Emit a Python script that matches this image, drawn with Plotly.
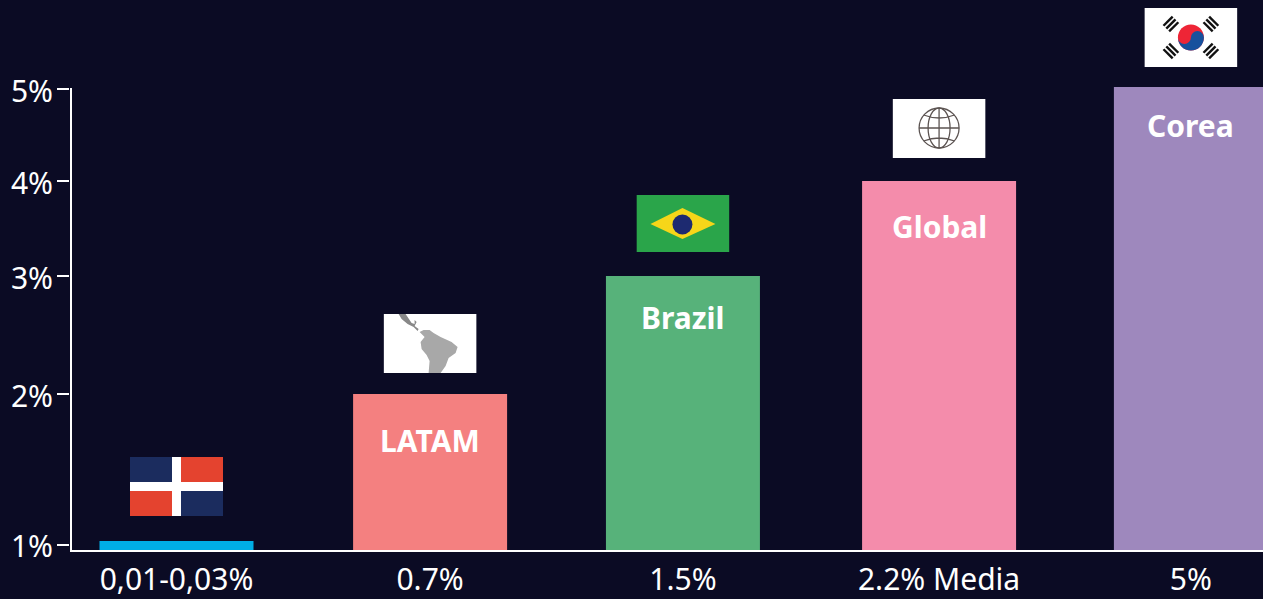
import base64
import plotly.graph_objects as go

# ---- data ----
categories = ["Dominicana", "LATAM", "Brazil", "Global", "Corea"]
value_labels = ["0,01-0,03%", "0.7%", "1.5%", "2.2% Media", "5%"]
bar_labels = ["", "LATAM", "Brazil", "Global", "Corea"]
# The axis of the original is not linear, so its scale is expressed in drawn units.
bar_heights = [9, 156, 274, 369, 463]
tick_units = [5.5, 156, 274, 369, 461]
tick_labels = ["1%", "2%", "3%", "4%", "5%"]
bar_slots = [0, 1, 1.997, 3.007, 4]
bar_colors = ["#00aee6", "#f48080", "#57b27a", "#f48cab", "#9e88bd"]
label_drop = [0, 46, 41, 45, 38]
flag_gap = [25, 21, 24, 23, 20]

BG = "#0b0b24"
W, H = 1263, 599
LEFT, BASE = 70, 550
STEP = 253.6
FIRST = 176.5
FLAG_W, FLAG_H = 93, 59
X0 = (LEFT - FIRST) / STEP
SPINE = (71 - FIRST) / STEP


def svg_uri(body):
    s = f'<svg xmlns="http://www.w3.org/2000/svg" viewBox="0 0 93 59" width="93" height="59" preserveAspectRatio="none">{body}</svg>'
    return "data:image/svg+xml;base64," + base64.b64encode(s.encode()).decode()


dom = ('<rect width="93" height="59" fill="#1b2c5e"/>'
       '<rect x="51" width="42" height="25" fill="#e4432f"/>'
       '<rect y="34" width="42" height="25" fill="#e4432f"/>'
       '<rect x="42" width="9" height="59" fill="#fff"/>'
       '<rect y="25" width="93" height="9" fill="#fff"/>')

latam = ('<rect width="93" height="59" fill="#fff"/>'
         '<path d="M15 0 L22 0 L28 9 L31 10 L31 6 L33 8 L31 12 L35 15 L34 17 L30 13 L24 10 L18 5 Z" fill="#888"/>'
         '<path d="M36 18 L40 16 L46 16 L50 19 L57 23 L68 28 L74 33 L72 39 L65 44 L62 52 L57 59 L45 59 L46 47 L43 41 L38 35 L37 28 L41 23 Z" fill="#a8a8a8"/>')

brazil = ('<g transform="translate(0 2)"><rect width="93" height="57" fill="#2aa54a"/>'
          '<path d="M14 29 L46 13 L79 29 L46 44 Z" fill="#f6d619"/>'
          '<circle cx="46" cy="29.5" r="10" fill="#1d2a70"/></g>')

globe = ('<rect width="93" height="59" fill="#fff"/>'
         '<g fill="none" stroke="#5c5452" stroke-width="1.3">'
         '<circle cx="46.5" cy="29" r="20"/>'
         '<ellipse cx="46.5" cy="29" rx="11" ry="20"/>'
         '<path d="M46.5 9 V49 M26.5 29 H66.5 M31 16 Q46.5 22 62 16 M31 42 Q46.5 36 62 42"/>'
         '</g>')


def trigram(cx, cy, angle):
    bars = "".join(f'<rect x="-6.5" y="{y}" width="13" height="2.4" fill="#111"/>' for y in (-5.2, -1.2, 2.8))
    return f'<g transform="translate({cx} {cy}) rotate({angle})">{bars}</g>'


korea = ('<rect width="93" height="59" fill="#fff"/>'
         '<circle cx="46.5" cy="29.5" r="13" fill="#ee2536"/>'
         '<path d="M33.5 29.5 A13 13 0 0 0 59.5 29.5 A6.5 6.5 0 0 0 46.5 29.5 A6.5 6.5 0 0 1 33.5 29.5 Z" fill="#17519d"/>'
         + trigram(26.5, 16, -45) + trigram(66.5, 16, 45) + trigram(26.5, 43, 45) + trigram(66.5, 43, -45))

flags = [dom, latam, brazil, globe, korea]

fig = go.Figure(go.Bar(
    x=bar_slots, y=bar_heights, width=154 / STEP,
    marker=dict(color=bar_colors, line_width=0),
    hoverinfo="skip", cliponaxis=True,
))

images = [dict(source=svg_uri(f), xref="x", yref="y", x=s, y=h + g,
               sizex=FLAG_W / STEP, sizey=FLAG_H, xanchor="center", yanchor="bottom",
               sizing="stretch", layer="above")
          for f, s, h, g in zip(flags, bar_slots, bar_heights, flag_gap)]

annotations = [dict(x=s, y=h - d, xref="x", yref="y", text=f"<b>{t}</b>", showarrow=False,
                    font=dict(family="Noto Sans", size=30, color="#ffffff"),
                    xanchor="center", yanchor="middle")
               for t, s, h, d in zip(bar_labels, bar_slots, bar_heights, label_drop) if t]

fig.update_layout(
    width=W, height=H, autosize=False,
    margin=dict(l=LEFT, r=0, t=0, b=H - BASE, pad=0, autoexpand=False),
    paper_bgcolor=BG, plot_bgcolor=BG, showlegend=False,
    images=images, annotations=annotations,
    font=dict(family="Noto Sans", color="#ffffff"),
    xaxis=dict(range=[X0, (W - FIRST) / STEP],
               tickmode="array", tickvals=bar_slots, ticktext=value_labels,
               ticks="", showgrid=False, zeroline=False, automargin=False,
               showline=True, linecolor="#ffffff", linewidth=2,
               tickfont=dict(size=30, color="#ffffff"), ticklabelstandoff=2),
    yaxis=dict(range=[0, BASE], tickmode="array", tickvals=tick_units, ticktext=tick_labels,
               ticks="outside", ticklen=12, tickwidth=2, tickcolor="#ffffff",
               showgrid=False, zeroline=False, showline=False, automargin=False,
               ticklabelstandoff=-2, ticklabelshift=2,
               tickfont=dict(size=30, color="#ffffff")),
    shapes=[dict(type="line", xref="x", yref="y", x0=SPINE, x1=SPINE,
                 y0=0, y1=tick_units[-1] + 1, line=dict(color="#ffffff", width=2), layer="above")],
)

fig.write_html("out.html", config=dict(displayModeBar=False),
               post_script="document.body.style.margin='0';document.body.style.background='%s';document.body.style.overflow='hidden';" % BG)
